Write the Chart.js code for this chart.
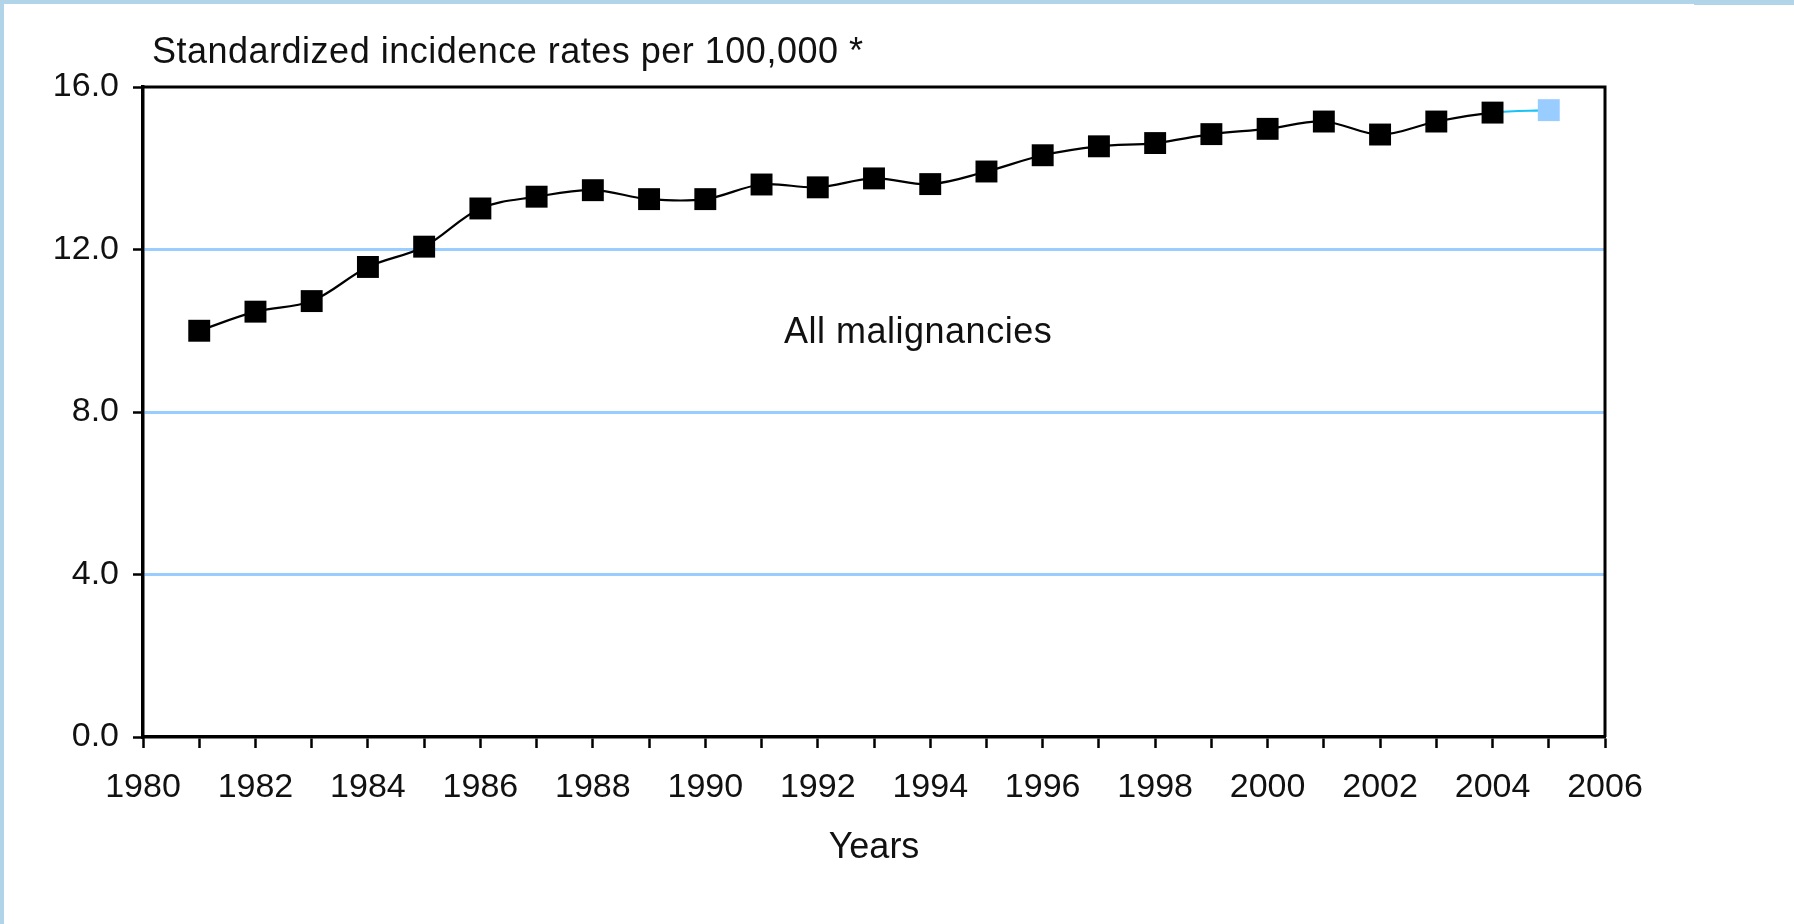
<!DOCTYPE html>
<html>
<head>
<meta charset="utf-8">
<script src="https://cdn.jsdelivr.net/npm/chart.js@4/dist/chart.umd.min.js"></script>
<style>
  html, body { margin: 0; padding: 0; background: #ffffff; }
  #wrap { position: relative; width: 1794px; height: 924px; }
  canvas { display: block; }
</style>
</head>
<body>
<div id="wrap"><canvas id="c" width="1794" height="924"></canvas></div>
<script>
// ---- data ----
const years = [1981, 1982, 1983, 1984, 1985, 1986, 1987, 1988, 1989, 1990,
               1991, 1992, 1993, 1994, 1995, 1996, 1997, 1998, 1999, 2000,
               2001, 2002, 2003, 2004, 2005];
const rates = [10.0, 10.47, 10.73, 11.57, 12.07, 13.01, 13.30, 13.46, 13.24, 13.24,
               13.60, 13.53, 13.75, 13.61, 13.92, 14.32, 14.54, 14.62, 14.84, 14.97,
               15.15, 14.83, 15.15, 15.37, 15.43];
const xTickLabels = ['1980', '1982', '1984', '1986', '1988', '1990', '1992',
                     '1994', '1996', '1998', '2000', '2002', '2004', '2006'];
const yTickLabels = ['0.0', '4.0', '8.0', '12.0', '16.0'];
const chartTitle = 'Standardized incidence rates per 100,000 *';
const seriesLabel = 'All malignancies';
const xAxisTitle = 'Years';

// ---- styling constants ----
const FONT = "'Liberation Sans', Arial, Helvetica, sans-serif";
const provisionalIndex = rates.length - 1;   // last point drawn in light blue
const annotationAt = { x: 1991.4, y: 9.7 };

const points = years.map((yr, i) => ({ x: yr, y: rates[i] }));

const decor = {
  id: 'decor',
  beforeDraw(chart) {
    const ctx = chart.ctx;
    ctx.save();
    ctx.fillStyle = '#ffffff';
    ctx.fillRect(0, 0, chart.width, chart.height);
    ctx.fillStyle = '#b1d4e8';
    ctx.fillRect(0, 0, 4, chart.height);
    ctx.fillRect(0, 0, 1694, 4);
    ctx.fillRect(1694, 0, chart.width - 1694, 5);
    ctx.restore();
  },
  beforeDatasetsDraw(chart) {
    const ctx = chart.ctx, a = chart.chartArea;
    ctx.save();
    ctx.strokeStyle = '#000000';
    ctx.lineWidth = 3;
    ctx.beginPath();
    ctx.moveTo(a.left, a.top);
    ctx.lineTo(a.right, a.top);
    ctx.lineTo(a.right, a.bottom);
    ctx.stroke();
    ctx.restore();
  },
  afterDraw(chart) {
    const ctx = chart.ctx;
    const xs = chart.scales.x, ys = chart.scales.y;
    ctx.save();
    ctx.fillStyle = '#111111';
    ctx.textAlign = 'left';
    ctx.textBaseline = 'alphabetic';
    ctx.font = '36px ' + FONT;
    try { ctx.letterSpacing = '0.5px'; } catch (e) {}
    ctx.fillText(chartTitle, 152, 63);
    ctx.fillText(seriesLabel, xs.getPixelForValue(annotationAt.x), ys.getPixelForValue(annotationAt.y));
    ctx.restore();
  }
};

new Chart(document.getElementById('c'), {
  type: 'line',
  data: {
    datasets: [{
      label: seriesLabel,
      data: points,
      borderColor: '#000000',
      borderWidth: 2.2,
      tension: 0.35,
      fill: false,
      segment: {
        borderColor: ctx => ctx.p1DataIndex === provisionalIndex ? '#19c3f5' : '#000000'
      },
      pointStyle: 'rect',
      pointRadius: 15.5,
      pointHoverRadius: 15.5,
      pointBorderWidth: 0,
      pointBackgroundColor: rates.map((v, i) => i === provisionalIndex ? '#99ccff' : '#000000'),
      pointBorderColor: rates.map((v, i) => i === provisionalIndex ? '#99ccff' : '#000000')
    }]
  },
  options: {
    responsive: false,
    animation: false,
    events: [],
    layout: { padding: { top: 87, right: 189, bottom: 0, left: 0 } },
    plugins: {
      legend: { display: false },
      tooltip: { enabled: false },
      title: { display: false }
    },
    scales: {
      x: {
        type: 'linear',
        min: 1980,
        max: 2006,
        afterFit(scale) { scale.height = 187; },
        border: { display: true, color: '#000000', width: 3.5 },
        grid: {
          drawOnChartArea: false,
          drawTicks: true,
          tickLength: 11,
          tickWidth: 2.5,
          tickColor: '#000000'
        },
        ticks: {
          stepSize: 1,
          autoSkip: false,
          maxRotation: 0,
          minRotation: 0,
          padding: 19,
          color: '#111111',
          font: { family: FONT, size: 34 },
          callback: v => {
            const s = String(v);
            return xTickLabels.includes(s) ? s : '';
          }
        },
        title: {
          display: true,
          text: xAxisTitle,
          color: '#111111',
          font: { family: FONT, size: 36 },
          padding: { top: 0, bottom: 54 }
        }
      },
      y: {
        type: 'linear',
        min: 0,
        max: 16,
        afterFit(scale) { scale.width = 143; },
        border: { display: true, color: '#000000', width: 3.5 },
        grid: {
          drawOnChartArea: true,
          color: c => (c.tick && c.tick.value > 0 && c.tick.value < 16) ? '#99ccff' : 'rgba(0,0,0,0)',
          lineWidth: 3,
          drawTicks: true,
          tickLength: 10,
          tickWidth: 2.5,
          tickColor: '#000000'
        },
        ticks: {
          stepSize: 4,
          padding: 14,
          color: '#111111',
          font: { family: FONT, size: 34 },
          callback: (v, i) => yTickLabels[i] !== undefined ? yTickLabels[i] : ''
        }
      }
    }
  },
  plugins: [decor]
});
</script>
</body>
</html>
